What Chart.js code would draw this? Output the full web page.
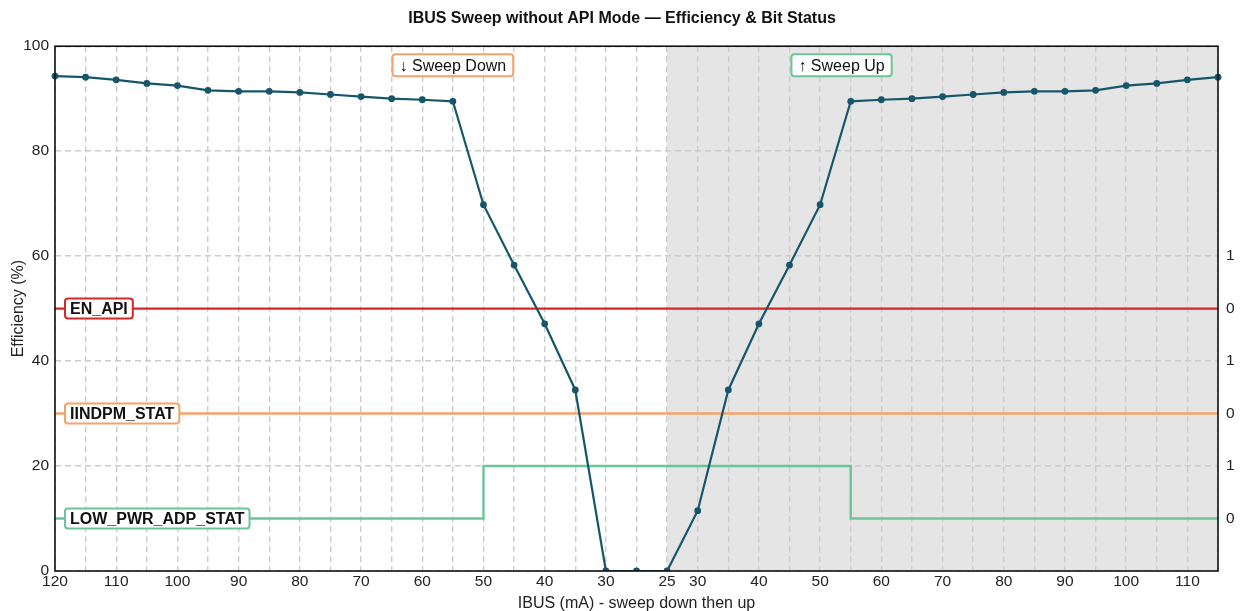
<!DOCTYPE html>
<html>
<head>
<meta charset="utf-8">
<script src="https://cdn.jsdelivr.net/npm/chart.js@4"></script>
<style>
    body { margin: 0; background: #ffffff; }
    #wrap { width: 1244px; height: 611px; }
</style>
</head>
<body>
<div id="wrap"><canvas id="myChart" width="1244" height="611"></canvas></div>
<script>
// IBUS sweep: down from 120 mA then back up to 115 mA
let ibusValues = [120, 115, 110, 105, 100, 95, 90, 85, 80, 75, 70, 65, 60, 55, 50, 45, 40, 35, 30, 25,
    25, 30, 35, 40, 45, 50, 55, 60, 65, 70, 75, 80, 85, 90, 95, 100, 105, 110, 115];
let tickLabels = ['120', '', '110', '', '100', '', '90', '', '80', '', '70', '', '60', '', '50', '', '40', '', '30', '',
    '25', '30', '', '40', '', '50', '', '60', '', '70', '', '80', '', '90', '', '100', '', '110', ''];
let efficiency = [94.3, 94.1, 93.6, 92.9, 92.5, 91.6, 91.4, 91.4, 91.2, 90.8, 90.4, 90.0, 89.8, 89.5, 69.8, 58.3, 47.1, 34.5, 0, 0,
    0, 11.5, 34.5, 47.1, 58.3, 69.8, 89.5, 89.8, 90.0, 90.4, 90.8, 91.2, 91.4, 91.4, 91.6, 92.5, 92.9, 93.6, 94.1];
let enApi = [0, 0, 0, 0, 0, 0, 0, 0, 0, 0, 0, 0, 0, 0, 0, 0, 0, 0, 0, 0,
    0, 0, 0, 0, 0, 0, 0, 0, 0, 0, 0, 0, 0, 0, 0, 0, 0, 0, 0];
let iindpmStat = [0, 0, 0, 0, 0, 0, 0, 0, 0, 0, 0, 0, 0, 0, 0, 0, 0, 0, 0, 0,
    0, 0, 0, 0, 0, 0, 0, 0, 0, 0, 0, 0, 0, 0, 0, 0, 0, 0, 0];
let lowPwrAdpStat = [0, 0, 0, 0, 0, 0, 0, 0, 0, 0, 0, 0, 0, 0, 1, 1, 1, 1, 1, 1,
    1, 1, 1, 1, 1, 1, 0, 0, 0, 0, 0, 0, 0, 0, 0, 0, 0, 0, 0];
let bitNames = ['EN_API', 'IINDPM_STAT', 'LOW_PWR_ADP_STAT'];
let bitOffsets = [4, 2, 0]; // lane of each bit trace on the right axis
let bitColors = ['#d62728', '#f4a267', '#6cc597'];
let sweepUpStart = 20; // first index of the sweep up (shaded part)

let effColor = '#17566a';
let fontFamily = '"Liberation Sans", Arial, sans-serif';

function laneData(bits, offset) {
    return bits.map(b => offset + b);
}

function roundBox(ctx, x, y, w, h, r) {
    ctx.beginPath();
    ctx.moveTo(x + r, y);
    ctx.lineTo(x + w - r, y);
    ctx.quadraticCurveTo(x + w, y, x + w, y + r);
    ctx.lineTo(x + w, y + h - r);
    ctx.quadraticCurveTo(x + w, y + h, x + w - r, y + h);
    ctx.lineTo(x + r, y + h);
    ctx.quadraticCurveTo(x, y + h, x, y + h - r);
    ctx.lineTo(x, y + r);
    ctx.quadraticCurveTo(x, y, x + r, y);
    ctx.closePath();
}

function drawTag(ctx, text, x, yMid, color, font, pad, h, alignCenter) {
    ctx.save();
    ctx.font = font;
    let w = ctx.measureText(text).width + pad * 2;
    let left = alignCenter ? x - w / 2 : x;
    roundBox(ctx, left, yMid - h / 2, w, h, 3);
    ctx.fillStyle = '#ffffff';
    ctx.fill();
    ctx.lineWidth = 2;
    ctx.strokeStyle = color;
    ctx.stroke();
    ctx.fillStyle = '#111111';
    ctx.textBaseline = 'middle';
    ctx.textAlign = 'left';
    ctx.fillText(text, left + pad, yMid + 1);
    ctx.restore();
}

let shadePlugin = {
    id: 'shade',
    beforeDraw(chart) {
        let ctx = chart.ctx;
        let area = chart.chartArea;
        let x0 = chart.scales.x.getPixelForValue(sweepUpStart);
        ctx.save();
        ctx.fillStyle = '#e5e5e5';
        ctx.fillRect(x0, area.top, area.right - x0, area.bottom - area.top);
        ctx.restore();
    }
};

let tagPlugin = {
    id: 'tags',
    afterDraw(chart) {
        let ctx = chart.ctx;
        let area = chart.chartArea;
        let x = chart.scales.x;
        let y2 = chart.scales.y2;

        for (let i = 0; i < bitNames.length; i++) {
            drawTag(ctx, bitNames[i], area.left + 10, y2.getPixelForValue(bitOffsets[i]), bitColors[i],
                'bold 16px ' + fontFamily, 5, 20, false);
        }

        drawTag(ctx, '↓ Sweep Down', x.getPixelForValue(13), area.top + 19, '#f4a267', '16px ' + fontFamily, 7, 22, true);
        drawTag(ctx, '↑ Sweep Up', x.getPixelForValue(25.7), area.top + 19, '#6cc597', '16px ' + fontFamily, 7, 22, true);

        ctx.save();
        ctx.strokeStyle = '#111111';
        ctx.lineWidth = 1.6;
        ctx.strokeRect(area.left, area.top, area.right - area.left, area.bottom - area.top);
        ctx.restore();
    }
};

let datasets = [{
    label: 'Efficiency',
    data: efficiency,
    borderColor: effColor,
    backgroundColor: effColor,
    borderWidth: 2.2,
    pointRadius: 3.4,
    pointBorderWidth: 0,
    tension: 0,
    yAxisID: 'y',
    order: 0
}];

let bitData = [enApi, iindpmStat, lowPwrAdpStat];
for (let i = 0; i < bitNames.length; i++) {
    datasets.push({
        label: bitNames[i],
        data: laneData(bitData[i], bitOffsets[i]),
        borderColor: bitColors[i],
        backgroundColor: bitColors[i],
        borderWidth: 2.4,
        pointRadius: 0,
        stepped: 'before',
        yAxisID: 'y2',
        order: 1
    });
}

Chart.defaults.font.family = fontFamily;
Chart.defaults.color = '#222222';

new Chart(document.getElementById('myChart'), {
    type: 'line',
    data: {
        labels: ibusValues.map(String),
        datasets: datasets
    },
    options: {
        responsive: false,
        animation: false,
        layout: { padding: 0 },
        plugins: {
            legend: { display: false },
            tooltip: { enabled: false },
            title: {
                display: true,
                text: 'IBUS Sweep without API Mode — Efficiency & Bit Status',
                font: { size: 16, weight: 'bold' },
                color: '#111111',
                padding: { top: 9, bottom: 18 }
            }
        },
        scales: {
            x: {
                type: 'category',
                offset: false,
                grid: { color: '#cccccc', lineWidth: 1.4, drawTicks: false },
                border: { display: false, dash: [6, 4] },
                afterFit: (scale) => { scale.height = 40; },
                ticks: {
                    autoSkip: false,
                    maxRotation: 0,
                    padding: 1,
                    font: { size: 15.5 },
                    callback: (v, i) => tickLabels[i]
                },
                title: {
                    display: true,
                    text: 'IBUS (mA) - sweep down then up',
                    font: { size: 16 },
                    padding: { top: 0, bottom: -2 }
                }
            },
            y: {
                min: 0,
                max: 100,
                grid: { color: '#cccccc', lineWidth: 1.4, drawTicks: false },
                border: { display: false, dash: [6, 4] },
                afterFit: (scale) => { scale.width = 55; },
                ticks: { stepSize: 20, padding: 6, font: { size: 15.5 } },
                title: {
                    display: true,
                    text: 'Efficiency (%)',
                    font: { size: 16 },
                    padding: { top: 9, bottom: 0 }
                }
            },
            y2: {
                position: 'right',
                min: -1,
                max: 9,
                grid: { display: false, drawTicks: false },
                border: { display: false },
                afterFit: (scale) => { scale.width = 26; },
                afterBuildTicks: (scale) => {
                    scale.ticks = [0, 1, 2, 3, 4, 5].map(v => ({ value: v }));
                },
                ticks: {
                    padding: 8,
                    font: { size: 15.5 },
                    callback: (v) => String(v % 2)
                }
            }
        }
    },
    plugins: [shadePlugin, tagPlugin]
});
</script>
</body>
</html>
